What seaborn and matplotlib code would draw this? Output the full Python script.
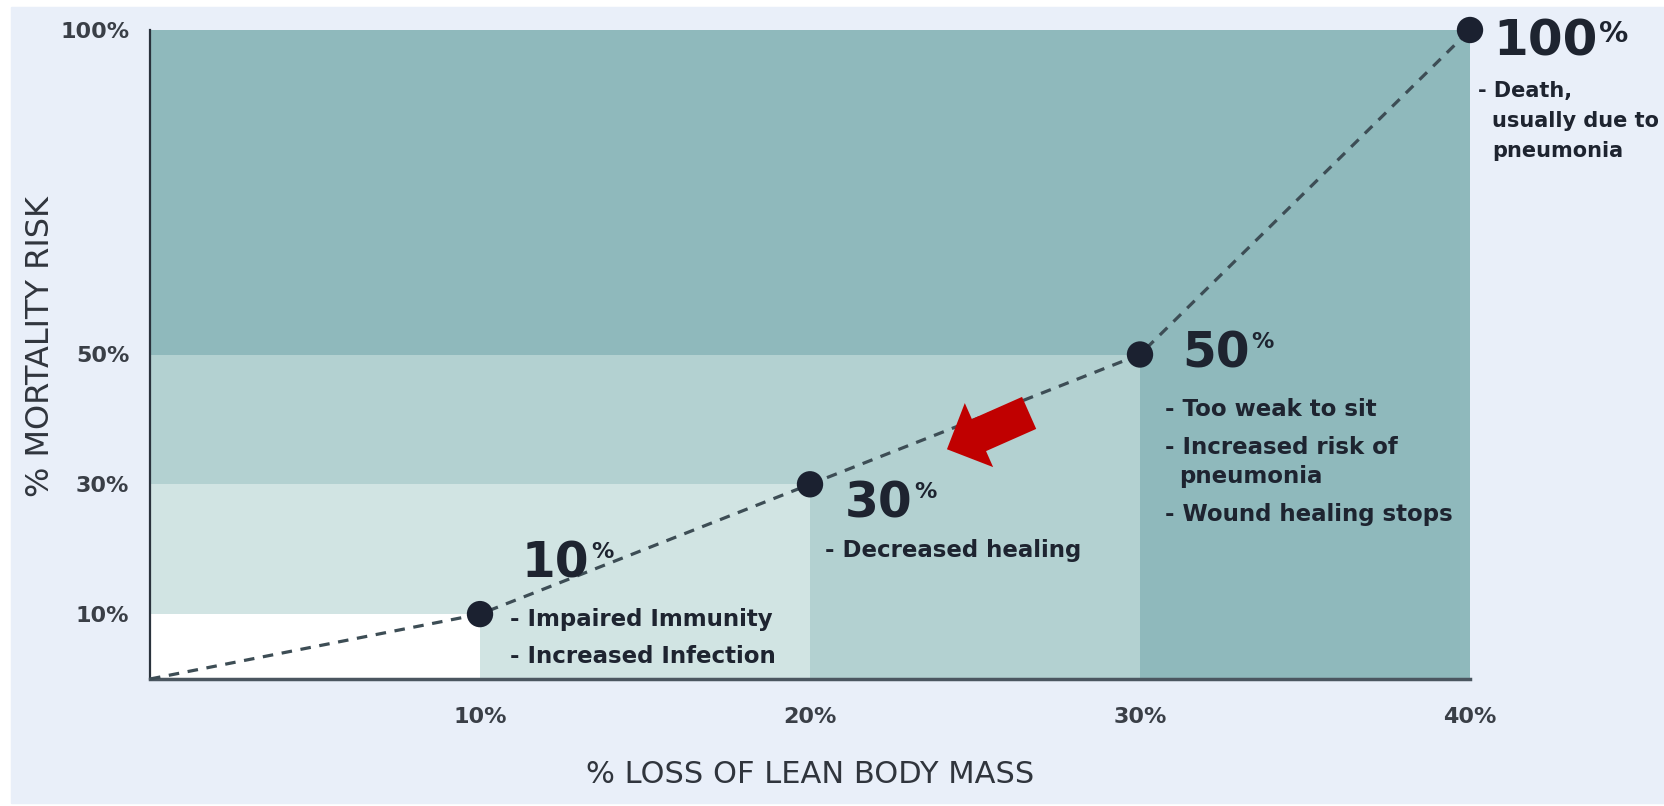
import matplotlib
matplotlib.use("Agg")
import matplotlib.pyplot as plt
import matplotlib.patches as mpatches
import pandas as pd
import seaborn as sns

# values
lean_mass_loss = [0, 10, 20, 30, 40]      # % loss of lean body mass
mortality_risk = [0, 10, 30, 50, 100]     # % mortality risk
x_ticks = [10, 20, 30, 40]
y_ticks = [10, 30, 50, 100]
big_labels = ["10", "30", "50", "100"]
effects = [
    ["- Impaired Immunity", "- Increased Infection"],
    ["- Decreased healing"],
    ["- Too weak to sit", "- Increased risk of", "pneumonia", "- Wound healing stops"],
    ["- Death,", "usually due to", "pneumonia"],
]
zone_colors = ["#ffffff", "#d1e4e3", "#b3d1d1", "#8fb9bc"]

# text placement, in pixels from each point (dy positive = up)
number_offsets = [(42, 37), (35, -33), (42, -13), (23, -25)]
effect_offsets = [(30, -12), (15, -73), (25, -62), (8, -67)]
number_sizes = [35, 35, 35, 36]
pct_sizes = [16, 16, 16, 21]
effect_sizes = [16.5, 16.5, 16.5, 15]

PX = 72 / 100  # pixel -> point at dpi 100
ink = "#1e2430"

sns.set_theme(style="white")
plt.rcParams["font.family"] = ["DejaVu Sans"]

fig = plt.figure(figsize=(16.64, 8.06), dpi=100, facecolor="white")
fig.add_artist(mpatches.Rectangle((11 / 1664, 3 / 806), 1, 796 / 806,
                                  transform=fig.transFigure, color="#e9eff9", zorder=-10))
ax = fig.add_axes([150 / 1664, 1 - 679 / 806, 1320 / 1664, 649 / 806])
ax.set_facecolor("#e9eff9")

# nested risk zones, largest first
for loss, risk, col in reversed(list(zip(lean_mass_loss[1:], mortality_risk[1:], zone_colors))):
    ax.bar(0, risk, width=loss, align="edge", color=col, linewidth=0, zorder=1)

df = pd.DataFrame({"loss": lean_mass_loss, "risk": mortality_risk})
sns.lineplot(data=df, x="loss", y="risk", ax=ax, color="#3d4d55", lw=2.3,
             linestyle=(0, (3.3, 2.7)), zorder=3, clip_on=False)
sns.scatterplot(data=df.iloc[1:], x="loss", y="risk", ax=ax, s=360, color="#1b2130",
                edgecolor="none", zorder=4, clip_on=False)

ax.set_xlim(0, 40)
ax.set_ylim(0, 100)
ax.set_xticks(x_ticks)
ax.set_xticklabels([f"{t}%" for t in x_ticks], fontsize=16, fontweight="bold", color="#3a3f47")
ax.set_yticks(y_ticks)
ax.set_yticklabels([f"{t}%" for t in y_ticks], fontsize=16, fontweight="bold", color="#3a3f47")
ax.tick_params(axis="x", length=0, pad=20)
ax.tick_params(axis="y", length=0, pad=15)

ax.set_xlabel("% LOSS OF LEAN BODY MASS", fontsize=22, color="#30353d")
ax.set_ylabel("% MORTALITY RISK", fontsize=23, color="#30353d")
ax.xaxis.set_label_coords(0.5, -0.125)
ax.yaxis.set_label_coords(-0.071, 0.513)

for side in ["top", "right"]:
    ax.spines[side].set_visible(False)
ax.spines["left"].set_color("#2a323c")
ax.spines["left"].set_linewidth(1.6)
ax.spines["bottom"].set_color("#4b5660")
ax.spines["bottom"].set_linewidth(2.5)

# stage labels
for i, (x, y) in enumerate(zip(lean_mass_loss[1:], mortality_risk[1:])):
    ndx, ndy = number_offsets[i]
    num = ax.annotate(big_labels[i], xy=(x, y), xytext=(ndx * PX, ndy * PX),
                      textcoords="offset points", ha="left", va="baseline",
                      fontsize=number_sizes[i], fontweight="bold", color=ink,
                      annotation_clip=False, zorder=6)
    ax.annotate("%", xy=(1, 1), xycoords=num, xytext=(1, -2), textcoords="offset points",
                ha="left", va="top", fontsize=pct_sizes[i], fontweight="bold", color=ink,
                annotation_clip=False, zorder=6)
    edx, edy = effect_offsets[i]
    for j, line in enumerate(effects[i]):
        if j > 0:
            edy -= 37 if line.startswith("-") else 30
        indent = 0 if line.startswith("-") else 14
        ax.annotate(line, xy=(x, y), xytext=((edx + indent) * PX, edy * PX),
                    textcoords="offset points", ha="left", va="baseline",
                    fontsize=effect_sizes[i], fontweight="bold", color=ink,
                    annotation_clip=False, zorder=6)

# red pointer arrow
arrow_tip = (24.15, 35.4)
arrow_tail = (26.64, 41.0)
ax.annotate("", xy=arrow_tip, xytext=arrow_tail, zorder=5,
            arrowprops=dict(arrowstyle="simple,head_length=2.52,head_width=5.04,tail_width=2.52",
                            mutation_scale=10, color="#c00000", shrinkA=0, shrinkB=0, lw=0))

fig.savefig("out.png", dpi=100, facecolor="white")
